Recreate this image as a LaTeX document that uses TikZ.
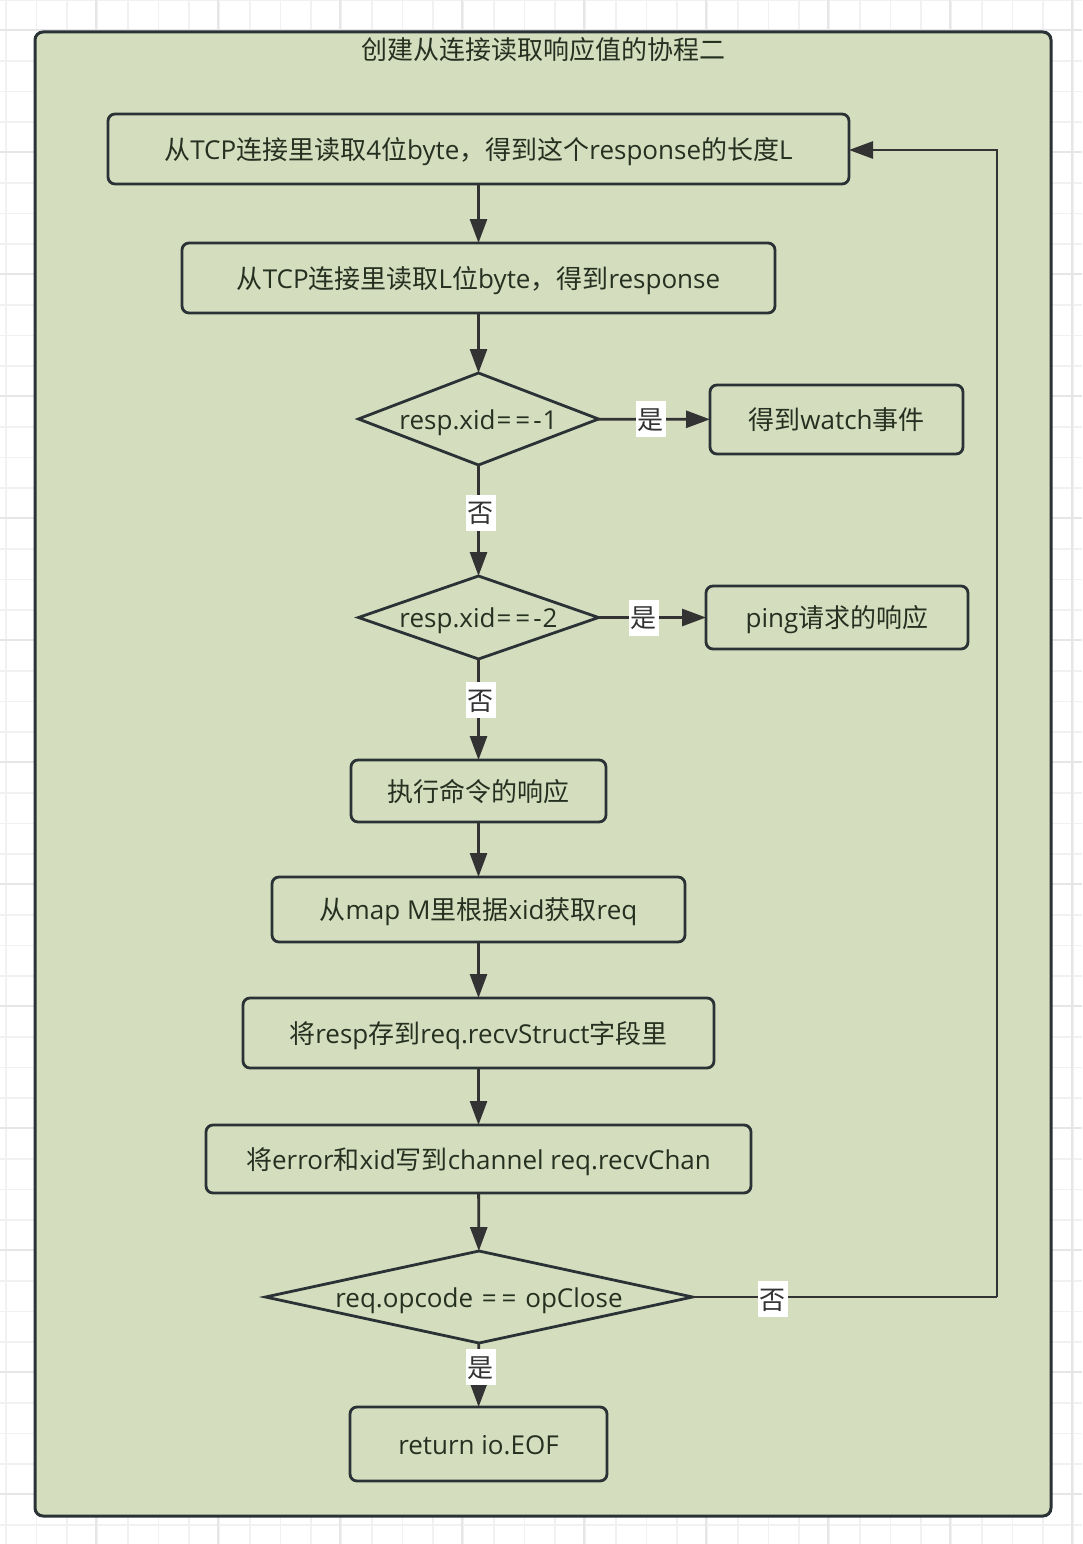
\documentclass[tikz,border=0pt]{standalone}
\usepackage{fontspec}
\setmainfont{Noto Sans CJK SC}
\newfontfamily\lat{Open Sans}
\newcommand{\Lt}[1]{{\lat #1}}
\newcommand{\Nw}[1]{\makebox[0pt][c]{#1}}
\usetikzlibrary{arrows.meta,shapes.geometric,calc}
\definecolor{panel}{HTML}{D5DDBF}
\definecolor{edgeline}{HTML}{2A3236}
\definecolor{conn}{HTML}{333333}
\definecolor{ink}{HTML}{263020}
\definecolor{gridlight}{HTML}{F1F1F1}
\definecolor{gridheavy}{HTML}{E6E6E6}
\tikzset{
  x=1pt,y=-1pt,
  every node/.style={font=\fontsize{26}{30}\selectfont,text=ink,outer sep=0pt,inner sep=0pt},
  procbox/.style={draw=edgeline,line width=2.8pt,rounded corners=7pt,align=center,text height=20pt,text depth=0pt},
  decision/.style={draw=edgeline,line width=2.8pt,shape=diamond,shape aspect=2,align=center,text height=20pt,text depth=0pt},
  flow/.style={draw=conn,line width=2.8pt,-{Triangle[length=24pt,width=17pt]}},
  edgetag/.style={fill=white,text=conn,minimum width=30pt,minimum height=36pt,text height=20pt,text depth=0pt},
}
\begin{document}
\begin{tikzpicture}
\useasboundingbox (0,0) rectangle (1082,1544);
\fill[white] (0,0) rectangle (1082,1544);
% background grid
\foreach \k in {0,...,35} {
  \draw[gridlight,line width=1.5pt] ({6+30.5*\k},0) -- ({6+30.5*\k},1544);
}
\foreach \k in {0,...,50} {
  \draw[gridlight,line width=1.5pt] (0,{0+30.5*\k}) -- (1082,{0+30.5*\k});
}
\foreach \k in {0,...,8} {
  \draw[gridheavy,line width=2pt] ({96+122*\k},0) -- ({96+122*\k},1544);
}
\foreach \k in {0,...,12} {
  \draw[gridheavy,line width=2pt] (0,{30+122*\k}) -- (1082,{30+122*\k});
}
% container
\node[draw=edgeline,fill=panel,line width=3pt,rounded corners=8pt,minimum width=1016pt,minimum height=1484pt] (panelbox) at (543,774) {};
\node[text height=20pt,text depth=0pt] (title) at (543,49.5) {创建从连接读取响应值的协程二};
% nodes
\node[procbox,minimum width=741pt,minimum height=70pt] (b1) at (478.5,149) {从\Lt{TCP}连接里读取\Lt{4}位\Lt{byte}，得到这个\Lt{response}的长度\Lt{L}};
\node[procbox,minimum width=593pt,minimum height=70pt] (b2) at (478.5,278) {从\Lt{TCP}连接里读取\Lt{L}位\Lt{byte}，得到\Lt{response}};
\node[decision,minimum width=240pt,minimum height=92pt] (d1) at (478.5,419) {\Nw{\Lt{resp.xid\kern1pt=\kern4pt=\kern3pt-\kern1pt1}}};
\node[procbox,minimum width=253pt,minimum height=69pt] (w) at (836.5,419.5) {得到\Lt{watch}事件};
\node[decision,minimum width=240pt,minimum height=83pt] (d2) at (478.5,617.5) {\Nw{\Lt{resp.xid\kern1pt=\kern4pt=\kern3pt-\kern1pt2}}};
\node[procbox,minimum width=262pt,minimum height=63pt] (p) at (837,617.5) {\Lt{ping}请求的响应};
\node[procbox,minimum width=255pt,minimum height=62pt] (b3) at (478.5,791) {执行命令的响应};
\node[procbox,minimum width=413pt,minimum height=65pt] (b4) at (478.5,909.5) {从\Lt{map M}里根据\Lt{xid}获取\Lt{req}};
\node[procbox,minimum width=471pt,minimum height=70pt] (b5) at (478.5,1033) {将\Lt{resp}存到\Lt{req.recvStruct}字段里};
\node[procbox,minimum width=545pt,minimum height=68pt] (b6) at (478.5,1159) {将\Lt{error}和\Lt{xid}写到\Lt{channel req.recvChan}};
\node[decision,minimum width=427pt,minimum height=92pt] (d3) at (479,1297) {\Nw{\Lt{req.opcode\kern2pt\ =\kern5pt=\kern2pt\ opClose}}};
\node[procbox,minimum width=257pt,minimum height=74pt] (e) at (478.5,1444) {\Lt{return io.EOF}};
\coordinate (loopa) at (997,1297);
\coordinate (loopb) at (997,150);
% connectors
\draw[flow] (b1) -- (b2);
\draw[flow] (b2) -- (d1);
\draw[flow] (d1) -- node[edgetag,pos=0.46,xshift=1pt] (t1) {是} (w);
\draw[flow] (d1) -- node[edgetag,pos=0.43,xshift=2pt] (t2) {否} (d2);
\draw[flow] (d2) -- node[edgetag,pos=0.41,xshift=1pt] (t3) {是} (p);
\draw[flow] (d2) -- node[edgetag,pos=0.41,xshift=2pt] (t4) {否} (b3);
\draw[flow] (b3) -- (b4);
\draw[flow] (b4) -- (b5);
\draw[flow] (b5) -- (b6);
\draw[flow] (b6) -- (d3);
\draw[flow] (d3) -- node[edgetag,pos=0.38,xshift=2pt] (t5) {是} (e);
\draw[conn,line width=2.5pt] (d3) -- node[edgetag,pos=0.26,xshift=1pt,yshift=-2pt] (t6) {否} (loopa);
\draw[flow] (loopa) -- (loopb) -- (b1.east |- loopb);
\end{tikzpicture}
\end{document}
